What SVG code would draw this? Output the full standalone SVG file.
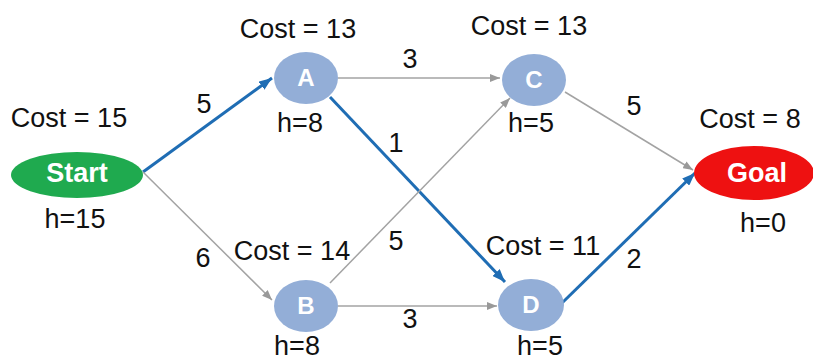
<svg xmlns="http://www.w3.org/2000/svg" width="813" height="360" viewBox="0 0 813 360">
<defs>
<marker id="mb" markerUnits="userSpaceOnUse" markerWidth="13" markerHeight="10" refX="13" refY="5" orient="auto"><path d="M0,0 L13,5 L0,10 z" fill="#1f6db4"/></marker>
<marker id="mg" markerUnits="userSpaceOnUse" markerWidth="10" markerHeight="8" refX="10" refY="4" orient="auto"><path d="M0,0 L10,4 L0,8 z" fill="#999"/></marker>
</defs>
<style>
text{font-family:"Liberation Sans",Arial,sans-serif;font-size:27px;fill:#111;text-anchor:middle}
.n{font-weight:bold;fill:#fff}
.sm{font-size:24px}
.blue{stroke:#1f6db4;stroke-width:3;fill:none;marker-end:url(#mb)}
.gray{stroke:#a3a3a3;stroke-width:1.5;fill:none;marker-end:url(#mg)}
.circ{fill:#93aed7}
</style>
<rect width="813" height="360" fill="#fff"/>
<g id="connectors">
<line class="blue" x1="143" y1="172" x2="272" y2="78"/>
<line class="gray" x1="143" y1="172" x2="272" y2="300"/>
<line class="gray" x1="338" y1="78" x2="500" y2="78"/>
<line class="blue" x1="330" y1="97" x2="505" y2="282"/>
<line class="gray" x1="330" y1="283" x2="510" y2="98"/>
<line class="gray" x1="338" y1="306" x2="497" y2="306"/>
<line class="gray" x1="565" y1="92" x2="693" y2="170"/>
<line class="blue" x1="562" y1="303" x2="695" y2="173"/>
<text x="204" y="113">5</text>
<text x="203" y="267">6</text>
<text x="410" y="68">3</text>
<text x="396" y="152">1</text>
<text x="396" y="250">5</text>
<text x="410" y="328">3</text>
<text x="634" y="115">5</text>
<text x="634" y="268">2</text>
</g>
<g id="start">
<ellipse cx="77" cy="175" rx="66" ry="23" fill="#1faa4f"/>
<text class="n" x="77" y="182">Start</text>
<text x="69" y="127">Cost = 15</text>
<text x="75" y="228">h=15</text>
</g>
<g id="A">
<ellipse class="circ" cx="306" cy="78" rx="32" ry="26"/>
<text class="n sm" x="306" y="86">A</text>
<text x="298" y="38">Cost = 13</text>
<text x="300" y="132">h=8</text>
</g>
<g id="C">
<ellipse class="circ" cx="534" cy="80" rx="32" ry="26"/>
<text class="n sm" x="534" y="88">C</text>
<text x="529" y="35">Cost = 13</text>
<text x="531" y="132">h=5</text>
</g>
<g id="B">
<ellipse class="circ" cx="306" cy="306" rx="32" ry="26"/>
<text class="n sm" x="306" y="314">B</text>
<text x="292" y="260">Cost = 14</text>
<text x="297" y="355">h=8</text>
</g>
<g id="D">
<ellipse class="circ" cx="531" cy="305" rx="33" ry="26"/>
<text class="n sm" x="531" y="313">D</text>
<text x="543" y="255">Cost = 11</text>
<text x="540" y="355">h=5</text>
</g>
<g id="goal">
<ellipse cx="754" cy="173" rx="60" ry="27" fill="#ee1111"/>
<text class="n" x="757" y="182">Goal</text>
<text x="750" y="128">Cost = 8</text>
<text x="763" y="232">h=0</text>
</g>
</svg>
